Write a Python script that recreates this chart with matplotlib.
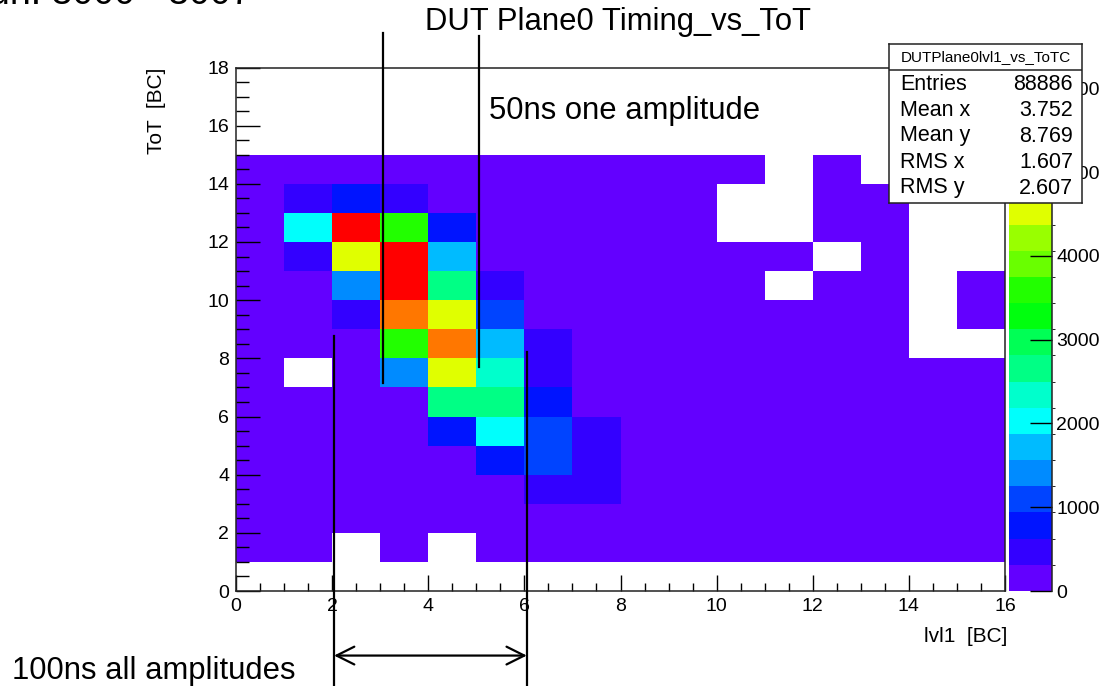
import numpy as np
import matplotlib
matplotlib.use('Agg')
import matplotlib.pyplot as plt
from matplotlib.colors import ListedColormap, BoundaryNorm

plt.rcParams['font.family'] = ['Liberation Sans', 'DejaVu Sans']

W, H = 1101, 686

# bin edges of the 2D histogram
lvl1_edges = np.arange(0, 17)
tot_edges = np.arange(0, 19)

# bin contents, row = ToT bin (0..17), column = lvl1 bin (0..15)
counts = np.array([
    [0, 0, 0, 0, 0, 0, 0, 0, 0, 0, 0, 0, 0, 0, 0, 0],
    [70, 35, 0, 20, 0, 25, 40, 55, 60, 50, 45, 40, 35, 30, 25, 20],
    [110, 140, 90, 120, 150, 180, 160, 130, 110, 95, 80, 70, 60, 55, 45, 40],
    [90, 120, 150, 190, 230, 280, 420, 390, 210, 150, 110, 90, 75, 60, 50, 40],
    [80, 110, 150, 210, 270, 850, 1120, 450, 240, 160, 120, 95, 80, 65, 50, 45],
    [70, 100, 140, 200, 780, 2010, 1160, 480, 250, 170, 120, 95, 75, 60, 50, 40],
    [60, 90, 130, 190, 2660, 2610, 820, 300, 210, 150, 110, 85, 70, 55, 45, 35],
    [50, 0, 120, 1410, 4530, 2350, 440, 280, 190, 140, 100, 80, 65, 50, 40, 30],
    [45, 70, 160, 3590, 5470, 1710, 430, 260, 170, 120, 90, 70, 55, 40, 0, 0],
    [40, 80, 470, 5450, 4540, 1100, 290, 200, 140, 100, 75, 60, 45, 35, 0, 25],
    [35, 90, 1400, 6080, 2640, 420, 220, 150, 110, 80, 60, 0, 40, 30, 0, 20],
    [30, 440, 4520, 6240, 1700, 250, 160, 110, 80, 60, 45, 35, 0, 25, 0, 0],
    [25, 2000, 6150, 3600, 790, 200, 130, 90, 65, 50, 0, 0, 30, 20, 0, 0],
    [20, 460, 800, 430, 180, 120, 85, 65, 50, 40, 0, 0, 20, 15, 0, 0],
    [15, 60, 150, 120, 70, 50, 40, 30, 25, 20, 15, 0, 10, 0, 0, 0],
    [0, 0, 0, 0, 0, 0, 0, 0, 0, 0, 0, 0, 0, 0, 0, 0],
    [0, 0, 0, 0, 0, 0, 0, 0, 0, 0, 0, 0, 0, 0, 0, 0],
    [0, 0, 0, 0, 0, 0, 0, 0, 0, 0, 0, 0, 0, 0, 0, 0],
])

z_max = 6250
n_levels = 20
cbar_ticks = [0, 1000, 2000, 3000, 4000, 5000, 6000]

stats_title = 'DUTPlane0lvl1_vs_ToTC'
stats_names = ['Entries', 'Mean x', 'Mean y', 'RMS x', 'RMS y']
stats_values = ['88886', '3.752', '8.769', '1.607', '2.607']

# hand drawn marks on top of the plot (data coordinates)
mark_lines = [
    (3.06, 19.2, 7.15),
    (5.05, 19.1, 7.7),
    (2.04, 8.77, -3.4),
    (6.05, 8.22, -3.4),
]
arrow_y = -2.22
arrow_x = (2.04, 6.05)


def pretty_palette(n):
    # violet -> red rainbow, 50 colours, sampled on n contour levels
    import colorsys
    hues = [280 - (i + 1) * 280 / 50 for i in range(49)] + [0]
    cols = []
    for k in range(n):
        idx = min(int((k + 0.99) * 50 / n), 49)
        r, g, b = colorsys.hls_to_rgb(hues[idx] / 360.0, 0.5, 1.0)
        cols.append((r, g, b))
    return cols


def px(x, y):
    return x / W, 1 - y / H


fig = plt.figure(figsize=(W / 100, H / 100), dpi=100)

l, b = px(236, 591)
r, t = px(1005, 67.5)
ax = fig.add_axes([l, b, r - l, t - b])

cmap = ListedColormap(pretty_palette(n_levels))
norm = BoundaryNorm(np.linspace(0, z_max, n_levels + 1), n_levels)
masked = np.ma.masked_equal(counts, 0)
mesh = ax.pcolormesh(lvl1_edges, tot_edges, masked, cmap=cmap, norm=norm)

ax.set_xlim(0, 16)
ax.set_ylim(0, 18)
ax.set_xticks(np.arange(0, 17, 2))
ax.set_yticks(np.arange(0, 19, 2))
ax.set_xticks(np.arange(0, 16.01, 0.5), minor=True)
ax.set_yticks(np.arange(0, 18.01, 0.5), minor=True)
ax.tick_params(axis='x', which='major', direction='in', length=11.5, width=1, labelsize=14, pad=5)
ax.tick_params(axis='x', which='minor', direction='in', length=5.8, width=1)
ax.tick_params(axis='y', which='major', direction='in', length=17.3, width=1, labelsize=14, pad=5)
ax.tick_params(axis='y', which='minor', direction='in', length=9.4, width=1)
for s in ax.spines.values():
    s.set_linewidth(1.1)
    s.set_color('#222222')

# palette axis
cl, cb = px(1009, 591)
cr, ct = px(1052, 67.5)
cax = fig.add_axes([cl, cb, cr - cl, ct - cb])
cbar = fig.colorbar(mesh, cax=cax, ticks=cbar_ticks)
cbar.outline.set_visible(False)
cax.yaxis.set_ticks_position('right')
cax.tick_params(direction='in', length=15.8, width=1, labelsize=14, pad=3)
cax.plot([1, 1], [0, 1], transform=cax.transAxes, color='#222222', lw=1.1, clip_on=False)

# titles and axis labels
fig.text(*px(618, 22), 'DUT Plane0 Timing_vs_ToT', fontsize=22.3, ha='center', va='center')
fig.text(*px(157, 68), 'ToT  [BC]', fontsize=15, rotation=90, ha='center', va='top')
fig.text(*px(1007, 637), 'lvl1  [BC]', fontsize=15, ha='right', va='center')
fig.text(*px(251, 3.5), 'Run: 3000 - 3007', fontsize=27, ha='right', va='baseline')

# statistics box
sl, sb = px(889, 203)
sr, st = px(1082, 44)
sax = fig.add_axes([sl, sb, sr - sl, st - sb], zorder=10)
sax.set_xlim(889, 1082)
sax.set_ylim(203, 44)
sax.set_xticks([])
sax.set_yticks([])
sax.set_facecolor('white')
for s in sax.spines.values():
    s.set_linewidth(1.1)
    s.set_color('#222222')
sax.plot([889, 1082], [70, 70], color='#222222', lw=1.1)
sax.text(985.5, 57, stats_title, fontsize=11, ha='center', va='center')
for i, (name, val) in enumerate(zip(stats_names, stats_values)):
    y = 84 + i * 26
    sax.text(900, y, name, fontsize=15.5, ha='left', va='center')
    sax.text(1073, y, val, fontsize=15.5, ha='right', va='center')

# annotations
for x, y0, y1 in mark_lines:
    ax.plot([x, x], [y0, y1], color='black', lw=1.6, clip_on=False, zorder=5)
ax.annotate('', xy=(arrow_x[1], arrow_y), xytext=(arrow_x[0], arrow_y),
            arrowprops=dict(arrowstyle='<->,head_length=0.4,head_width=0.2',
                            mutation_scale=32, lw=1.6, color='black',
                            shrinkA=0, shrinkB=0),
            annotation_clip=False)
fig.text(*px(489, 111), '50ns one amplitude', fontsize=22.3, ha='left', va='center')
fig.text(*px(12, 679), '100ns all amplitudes', fontsize=22.3, ha='left', va='baseline')

fig.savefig('out.png', dpi=100)
